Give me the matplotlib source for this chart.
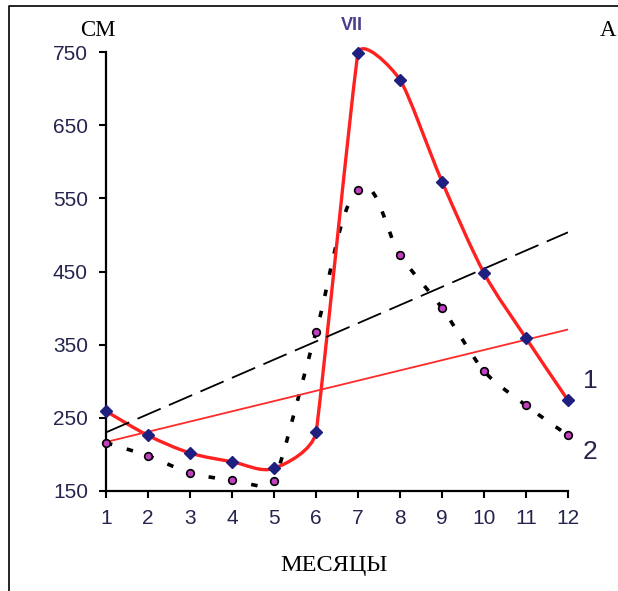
import numpy as np
import matplotlib.pyplot as plt
from matplotlib.path import Path
from matplotlib.patches import PathPatch
from matplotlib.lines import Line2D

# data
months = [1, 2, 3, 4, 5, 6, 7, 8, 9, 10, 11, 12]
level_1 = [259, 226, 202, 190, 181, 230, 748, 712, 573, 448, 359, 274]
level_2 = [216, 198, 175, 165, 164, 367, 562, 472, 400, 314, 267, 226]
y_ticks = [150, 250, 350, 450, 550, 650, 750]

SX, SY = 42.0, 0.733   # px per unit, used only to shape the smoothed curve


def smooth_path(xs, ys):
    # excel-like smoothed line: bezier, tangent length from the shorter neighbour segment
    p = np.column_stack([np.asarray(xs, float) * SX, np.asarray(ys, float) * SY])
    n = len(p)
    seg = np.hypot(*(p[1:] - p[:-1]).T)
    tang = np.zeros_like(p)
    hand = np.zeros(n)
    for i in range(n):
        a = p[max(i - 1, 0)]
        b = p[min(i + 1, n - 1)]
        d = b - a
        tang[i] = d / np.hypot(*d)
        near = [seg[j] for j in (i - 1, i) if 0 <= j < n - 1]
        hand[i] = min(near) / 3.0
    verts = [p[0]]
    codes = [Path.MOVETO]
    for i in range(n - 1):
        verts += [p[i] + tang[i] * hand[i], p[i + 1] - tang[i + 1] * hand[i + 1], p[i + 1]]
        codes += [Path.CURVE4] * 3
    verts = np.array(verts) / [SX, SY]
    return Path(verts, codes)


fig = plt.figure(figsize=(6.18, 5.91), dpi=100)
ax = fig.add_axes([106 / 618, 100 / 591, 462 / 618, 439 / 591])

sans = 'Liberation Sans'
serif = 'Liberation Serif'
tick_col = '#24244f'

# trend lines
k1 = np.polyfit(months, level_1, 1)
k2 = np.polyfit(months, level_2, 1)
xx = np.array([months[0], months[-1]])
ax.plot(xx, np.polyval(k1, xx), color='black', lw=1.3, dashes=(14, 5))
ax.plot(xx, np.polyval(k2, xx), color='#ff2a2a', lw=1.3)

# curves
ax.add_patch(PathPatch(smooth_path(months, level_2), fill=False, edgecolor='black',
                       lw=2.6, linestyle=(0, (1.8, 4.2)), clip_on=True))
ax.add_patch(PathPatch(smooth_path(months, level_1), fill=False, edgecolor='#ff2020',
                       lw=2.4, clip_on=False, capstyle='round', joinstyle='round'))

ax.plot(months, level_2, 'o', ms=5.5, mfc='#c040c0', mec='black', mew=1.2, clip_on=False, zorder=5)
ax.plot(months, level_1, 'D', ms=6, mfc='#1f1f80', mec='#1f1f80', clip_on=False, zorder=6)

ax.set_xlim(1, 12)
ax.set_ylim(150, 750)
ax.set_xticks(months)
ax.set_yticks(y_ticks)
for s in ['top', 'right']:
    ax.spines[s].set_visible(False)
for s in ['left', 'bottom']:
    ax.spines[s].set_linewidth(1.6)
ax.tick_params(direction='out', length=5, width=1.5, labelsize=15, labelcolor=tick_col)
ax.tick_params(axis='x', pad=8)
ax.tick_params(axis='y', pad=8)
for lb in ax.get_xticklabels() + ax.get_yticklabels():
    lb.set_fontfamily(sans)

# texts
fig.text(98 / 618, 1 - 30 / 591, 'СМ', family=serif, fontsize=16.5, ha='center', va='center')
fig.text(352 / 618, 1 - 25 / 591, 'VII', family=sans, fontsize=13, fontweight='bold',
         color='#4a3f8f', ha='center', va='center')
fig.text(608 / 618, 1 - 30 / 591, 'А', family=serif, fontsize=16.5, ha='center', va='center')
fig.text(334 / 618, 1 - 565 / 591, 'МЕСЯЦЫ', family=serif, fontsize=17.5, ha='center', va='center')
fig.text(590 / 618, 1 - 381 / 591, '1', family=sans, fontsize=19, color=tick_col, ha='center', va='center')
fig.text(590 / 618, 1 - 452 / 591, '2', family=sans, fontsize=19, color=tick_col, ha='center', va='center')

# outer frame (left and top)
fig.add_artist(Line2D([9 / 618, 9 / 618, 1], [0, 1 - 6 / 591, 1 - 6 / 591], color='black', lw=1.2))

fig.savefig('out.png', dpi=100)
